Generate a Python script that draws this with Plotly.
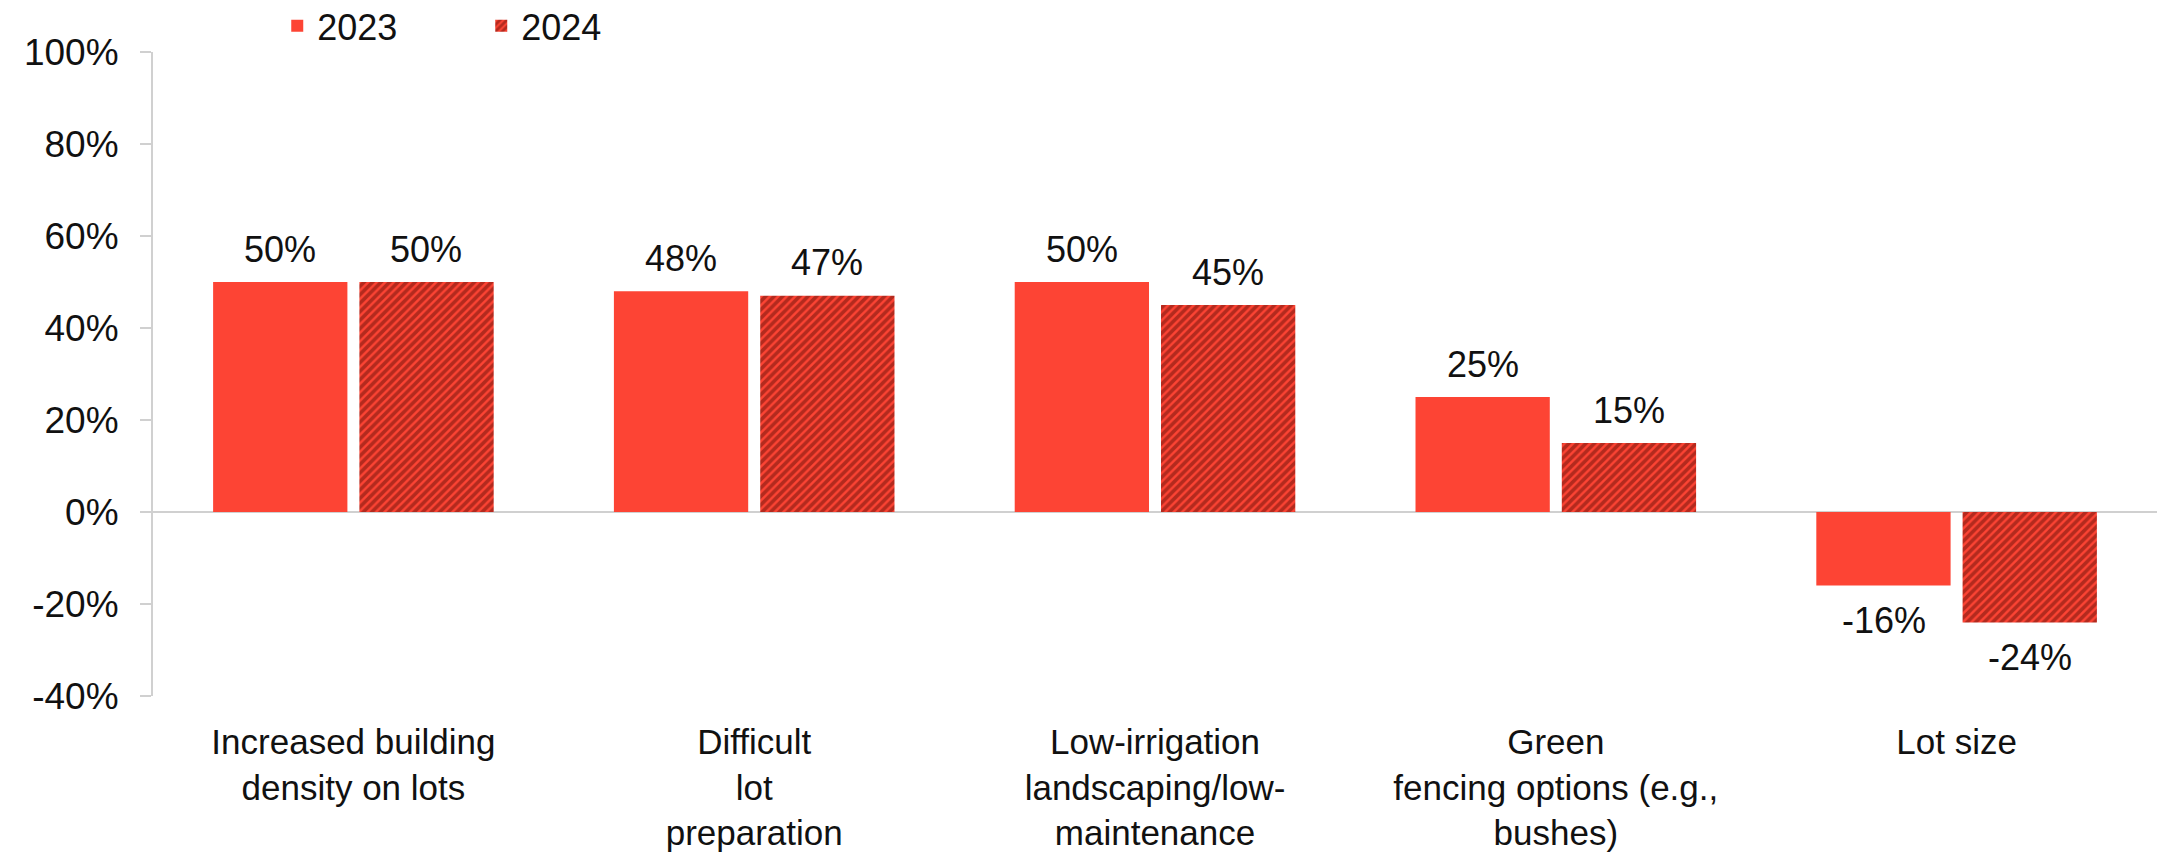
import plotly.graph_objects as go

categories = [
    "Increased building<br>density on lots",
    "Difficult<br>lot<br>preparation",
    "Low-irrigation<br>landscaping/low-<br>maintenance",
    "Green<br>fencing options (e.g.,<br>bushes)",
    "Lot size",
]
values_2023 = [50, 48, 50, 25, -16]
values_2024 = [50, 47, 45, 15, -24]
y_ticks = [-40, -20, 0, 20, 40, 60, 80, 100]

RED = "#fd4434"
DARK = "#6a0f08"
AXIS = "#d0d0d0"
FONT = "Liberation Sans"

fig = go.Figure()
fig.add_trace(go.Bar(
    name="2023", x=categories, y=values_2023,
    marker=dict(color=RED, line=dict(width=0)),
))
fig.add_trace(go.Bar(
    name="2024", x=categories, y=values_2024,
    marker=dict(color=RED, line=dict(width=0),
                pattern=dict(shape="/", fgcolor=DARK, bgcolor=RED,
                             size=6, solidity=0.6)),
))

# value labels placed above positive bars and below negative bars
for series, shift in ((values_2023, -73), (values_2024, 73)):
    for cat, v in zip(categories, series):
        fig.add_annotation(
            x=cat, y=v, text=f"{v}%", showarrow=False,
            xshift=shift, yshift=33 if v >= 0 else -35,
            font=dict(family=FONT, size=36, color="#111111"),
        )

fig.update_layout(
    width=2164, height=858,
    margin=dict(l=153, r=7, t=52, b=162, autoexpand=False),
    paper_bgcolor="white", plot_bgcolor="white",
    barmode="group", bargap=0.27, bargroupgap=0.082,
    font=dict(family=FONT, size=36, color="#111111"),
    showlegend=True,
    legend=dict(
        orientation="h", x=0.062, y=0.97, xanchor="left", yanchor="middle",
        xref="paper", yref="container",
        font=dict(family=FONT, size=36, color="#111111"),
        entrywidth=159, entrywidthmode="pixels",
        bgcolor="rgba(0,0,0,0)",
    ),
)
fig.update_xaxes(
    showline=False, showgrid=False, ticks="", zeroline=False,
    tickfont=dict(family=FONT, size=35, color="#111111"),
    ticklabelstandoff=22,
)
fig.update_yaxes(
    range=[-40, 100], tickvals=y_ticks,
    ticktext=[f"{t}%" for t in y_ticks],
    showline=True, linecolor=AXIS, linewidth=2,
    ticks="outside", ticklen=11, tickcolor=AXIS, tickwidth=2,
    showgrid=False, zeroline=True, zerolinecolor=AXIS, zerolinewidth=2,
    tickfont=dict(family=FONT, size=37, color="#111111"),
    ticklabelstandoff=14,
)

fig.write_html("out.html")
